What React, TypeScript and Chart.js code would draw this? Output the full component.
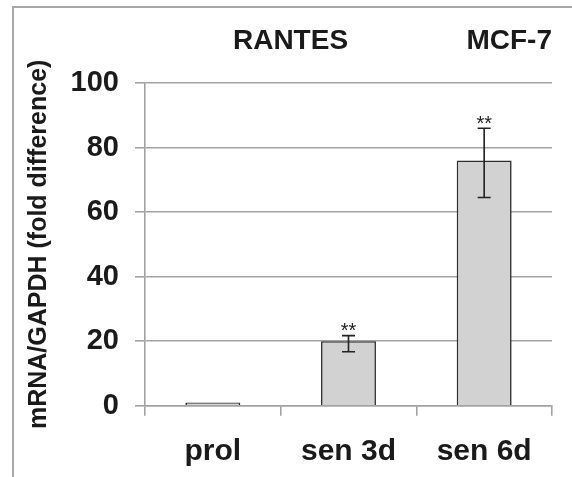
import React, { useEffect, useRef } from "react";
import { Chart, registerables } from "chart.js";

Chart.register(...registerables);

const categories = ["prol", "sen 3d", "sen 6d"];
const values = [1, 20, 76];
const errLow = [null, 16.7, 64.5];
const errHigh = [null, 21.7, 86];
const significance = ["", "**", "**"];
const yTicks = [0, 20, 40, 60, 80, 100];
const geneLabel = "RANTES";
const cellLabel = "MCF-7";
const yTitle = "mRNA/GAPDH (fold difference)";

const FONT = "'Liberation Sans', Arial, sans-serif";
const GRID = "#a3a3a3";

const framePlugin = {
  id: "frame",
  beforeDraw(chart: any) {
    const { ctx, width, height } = chart;
    ctx.save();
    ctx.strokeStyle = "#a8a8a8";
    ctx.lineWidth = 2;
    ctx.beginPath();
    ctx.moveTo(13, height);
    ctx.lineTo(13, 7);
    ctx.lineTo(width, 7);
    ctx.stroke();
    ctx.restore();
  },
  afterDraw(chart: any) {
    const { ctx, chartArea } = chart;
    ctx.save();
    ctx.fillStyle = "#1a1a1a";
    ctx.font = `bold 28px ${FONT}`;
    ctx.textBaseline = "alphabetic";
    ctx.textAlign = "center";
    ctx.fillText(geneLabel, chartArea.left + 145.5, 49);
    ctx.textAlign = "right";
    ctx.fillText(cellLabel, chartArea.right, 49);
    ctx.restore();
  },
};

const errorBarPlugin = {
  id: "errorBars",
  afterDatasetsDraw(chart: any) {
    const { ctx } = chart;
    const meta = chart.getDatasetMeta(0);
    const yScale = chart.scales.y;
    ctx.save();
    ctx.strokeStyle = "#222";
    ctx.lineWidth = 1.6;
    meta.data.forEach((bar: any, i: number) => {
      const lo = errLow[i];
      const hi = errHigh[i];
      if (lo == null || hi == null) return;
      const x = bar.x;
      const yLo = yScale.getPixelForValue(lo);
      const yHi = yScale.getPixelForValue(hi);
      const cap = 6.5;
      ctx.beginPath();
      ctx.moveTo(x, yLo);
      ctx.lineTo(x, yHi);
      ctx.moveTo(x - cap, yLo);
      ctx.lineTo(x + cap, yLo);
      ctx.moveTo(x - cap, yHi);
      ctx.lineTo(x + cap, yHi);
      ctx.stroke();
      if (significance[i]) {
        ctx.fillStyle = "#222";
        ctx.font = `20px ${FONT}`;
        ctx.textAlign = "center";
        ctx.textBaseline = "alphabetic";
        ctx.fillText(significance[i], x, yHi + 1.8);
      }
    });
    ctx.restore();
  },
};

export default function App() {
  const ref = useRef<HTMLCanvasElement | null>(null);

  useEffect(() => {
    if (!ref.current) return;
    const chart = new Chart(ref.current, {
      type: "bar",
      data: {
        labels: categories,
        datasets: [
          {
            data: values,
            backgroundColor: "#d2d2d2",
            borderColor: "#2e2e2e",
            borderWidth: 1.6,
            categoryPercentage: 1,
            barPercentage: 0.405,
          },
        ],
      },
      plugins: [framePlugin, errorBarPlugin],
      options: {
        responsive: false,
        maintainAspectRatio: false,
        animation: false,
        layout: { padding: { left: 0, top: 83, right: 20, bottom: 7.3 } },
        plugins: {
          legend: { display: false },
          tooltip: { enabled: false },
          title: { display: false },
        },
        scales: {
          x: {
            grid: {
              display: true,
              drawOnChartArea: false,
              drawTicks: true,
              tickLength: 10,
              color: GRID,
              lineWidth: 1.6,
              offset: true,
            },
            border: { display: true, color: GRID, width: 1.6 },
            ticks: {
              color: "#1a1a1a",
              font: { family: FONT, size: 30, weight: "bold" },
              padding: 18,
              maxRotation: 0,
            },
            afterFit: (s: any) => {
              s.height = 64;
            },
          },
          y: {
            min: 0,
            max: 100,
            afterBuildTicks: (s: any) => {
              s.ticks = yTicks.map((v) => ({ value: v }));
            },
            grid: {
              color: GRID,
              lineWidth: 1.6,
              tickLength: 10,
              drawTicks: true,
            },
            border: { display: true, color: GRID, width: 1.6 },
            ticks: {
              color: "#1a1a1a",
              font: { family: FONT, size: 29, weight: "bold" },
              padding: 16,
            },
            title: {
              display: true,
              text: yTitle,
              color: "#1a1a1a",
              font: { family: FONT, size: 25, weight: "bold" },
              padding: { top: 24, bottom: 0 },
            },
            afterFit: (s: any) => {
              s.width = 145;
            },
          },
        },
      },
    });
    return () => chart.destroy();
  }, []);

  return (
    <div style={{ position: "fixed", left: 0, top: 0, width: 572, height: 477, background: "#fff" }}>
      <canvas ref={ref} width={572} height={477} style={{ display: "block" }} />
    </div>
  );
}
